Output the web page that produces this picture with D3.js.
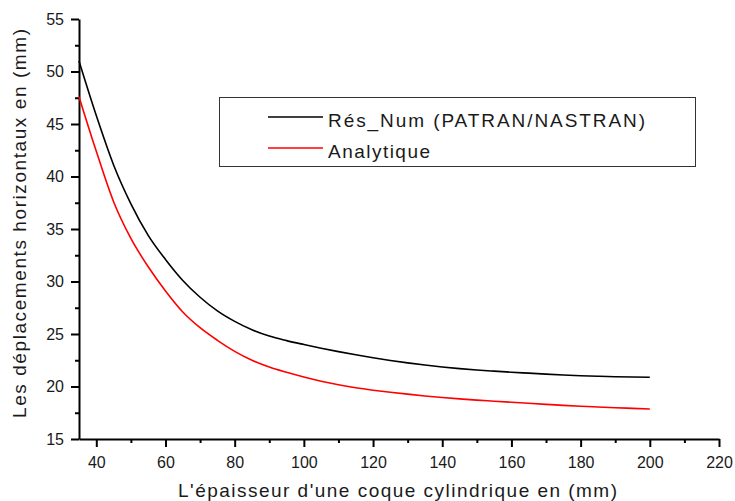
<!DOCTYPE html>
<html>
<head>
<meta charset="utf-8">
<script src="https://cdn.jsdelivr.net/npm/d3@7"></script>
<style>
	body { margin: 0; background: #fff; }
	text { font-family: 'Liberation Sans', Arial, sans-serif; fill: #1a1a1a; }
</style>
</head>
<body>
<svg id="chart" width="735" height="501"></svg>
<script>
'use strict';

// epaisseur (mm)
const thickness = [35, 40, 45, 50, 55, 60, 65, 70, 75, 80, 85, 90, 95, 100, 105, 110, 115, 120,
	125, 130, 135, 140, 145, 150, 155, 160, 165, 170, 175, 180, 185, 190, 195, 200];
// Res_Num (PATRAN/NASTRAN)
const numericValues = [51.0, 45.8, 41.1, 37.4, 34.4, 32.1, 30.1, 28.5, 27.2, 26.2, 25.4, 24.8, 24.37, 24.0,
	23.65, 23.32, 23.02, 22.74, 22.48, 22.25, 22.04, 21.86, 21.7, 21.57, 21.46, 21.36, 21.27, 21.18,
	21.1, 21.03, 20.98, 20.93, 20.9, 20.88];
// Analytique
const analyticValues = [47.6, 42.4, 37.6, 34.1, 31.4, 29.1, 27.1, 25.6, 24.4, 23.35, 22.5, 21.85, 21.35, 20.9,
	20.5, 20.16, 19.88, 19.65, 19.45, 19.27, 19.1, 18.95, 18.82, 18.7, 18.6, 18.5, 18.4, 18.3,
	18.2, 18.12, 18.05, 17.98, 17.92, 17.86];

const xTicks = [40, 60, 80, 100, 120, 140, 160, 180, 200, 220];
const xMinorTicks = [50, 70, 90, 110, 130, 150, 170, 190, 210];
const yTicks = [15, 20, 25, 30, 35, 40, 45, 50, 55];
const yMinorTicks = [17.5, 22.5, 27.5, 32.5, 37.5, 42.5, 47.5, 52.5];

const seriesNames = ['Rés_Num (PATRAN/NASTRAN)', 'Analytique'];
const seriesColors = ['#000000', '#ff0000'];

const svg = d3.select('#chart');

const x = d3.scaleLinear().domain([35, 220]).range([79, 719]);
const y = d3.scaleLinear().domain([15, 55]).range([439, 19]);

// minor ticks first, then the major axis on top
svg.append('g')
	.attr('transform', 'translate(0,439)')
	.call(d3.axisBottom(x).tickValues(xMinorTicks).tickSize(4).tickFormat(''))
	.call(g => g.select('.domain').remove())
	.selectAll('line').attr('stroke-width', 2);
svg.append('g')
	.attr('transform', 'translate(79,0)')
	.call(d3.axisLeft(y).tickValues(yMinorTicks).tickSize(4).tickFormat(''))
	.call(g => g.select('.domain').remove())
	.selectAll('line').attr('stroke-width', 2);

const xAxis = svg.append('g')
	.attr('transform', 'translate(0,439)')
	.call(d3.axisBottom(x).tickValues(xTicks).tickSize(8).tickSizeOuter(0).tickPadding(10));
xAxis.select('.domain').attr('stroke-width', 2);
xAxis.selectAll('line').attr('stroke-width', 2);
xAxis.selectAll('text').attr('font-size', 16).attr('font-family', null).attr('fill', '#1a1a1a');

const yAxis = svg.append('g')
	.attr('transform', 'translate(79,0)')
	.call(d3.axisLeft(y).tickValues(yTicks).tickSize(8).tickSizeOuter(0).tickPadding(7));
yAxis.select('.domain').attr('stroke-width', 2);
yAxis.selectAll('line').attr('stroke-width', 2);
yAxis.selectAll('text').attr('font-size', 16).attr('font-family', null).attr('fill', '#1a1a1a');

// axis titles
svg.append('text')
	.attr('x', 178)
	.attr('y', 497)
	.attr('font-size', 19)
	.attr('textLength', 439)
	.attr('lengthAdjust', 'spacing')
	.text("L'épaisseur d'une coque cylindrique en (mm)");

svg.append('text')
	.attr('transform', 'translate(26,418) rotate(-90)')
	.attr('font-size', 19)
	.attr('textLength', 389)
	.attr('lengthAdjust', 'spacing')
	.text('Les déplacements horizontaux en (mm)');

// curves
const line = d3.line()
	.curve(d3.curveMonotoneX)
	.x((d, i) => x(thickness[i]))
	.y(d => y(d));

[numericValues, analyticValues].forEach((values, i) => {
	svg.append('path')
		.attr('d', line(values))
		.attr('fill', 'none')
		.attr('stroke', seriesColors[i])
		.attr('stroke-width', 1.6);
});

// legend
const legend = svg.append('g');
legend.append('rect')
	.attr('x', 219.5)
	.attr('y', 97.5)
	.attr('width', 476)
	.attr('height', 69)
	.attr('fill', '#fff')
	.attr('stroke', '#333')
	.attr('stroke-width', 1);

const legendTextLength = [317, 102];
seriesNames.forEach((name, i) => {
	const cy = 117 + i * 31;
	legend.append('line')
		.attr('x1', 268).attr('x2', 323)
		.attr('y1', cy).attr('y2', cy)
		.attr('stroke', seriesColors[i])
		.attr('stroke-width', 1.6);
	legend.append('text')
		.attr('x', 328)
		.attr('y', cy + 4)
		.attr('dy', '0.3em')
		.attr('font-size', 19)
		.attr('textLength', legendTextLength[i])
		.attr('lengthAdjust', 'spacing')
		.text(name);
});
</script>
</body>
</html>
